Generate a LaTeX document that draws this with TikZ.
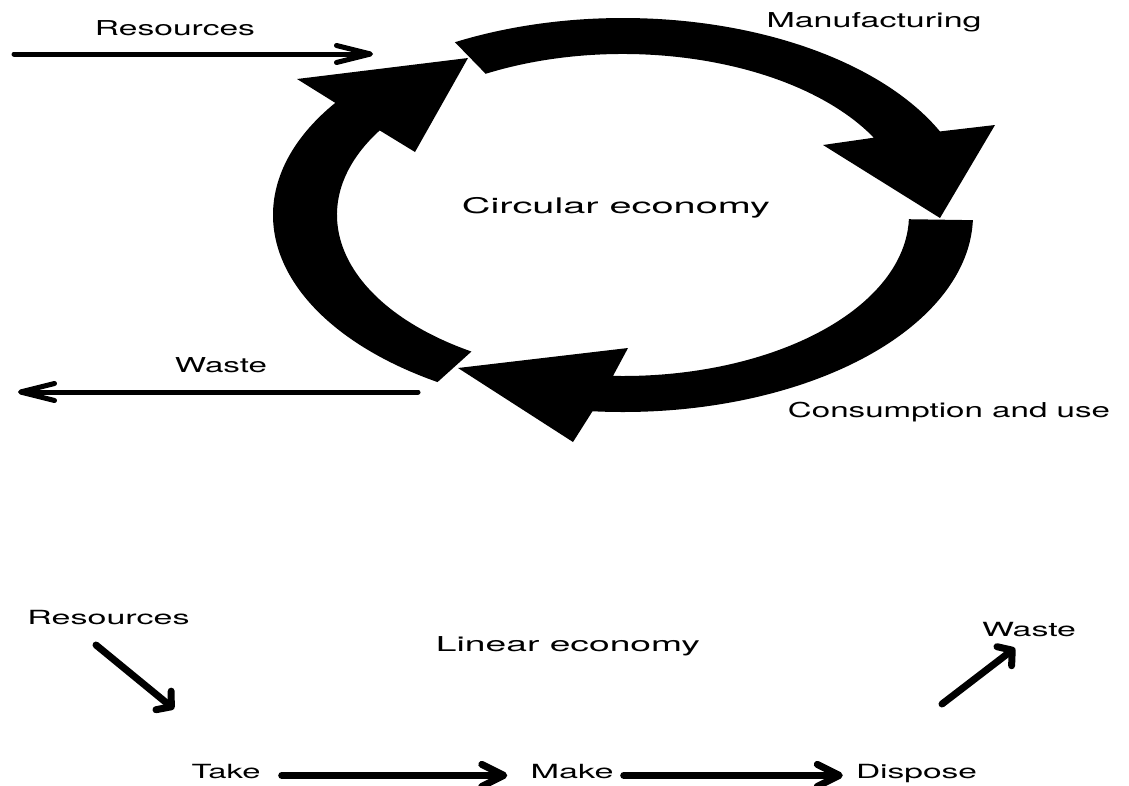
\documentclass[tikz,border=0pt]{standalone}
\usepackage{fontspec}
\setmainfont{TeX Gyre Heros}
\usepackage{graphicx}
\usetikzlibrary{arrows.meta,calc}
\newcommand{\stretchto}[2]{\resizebox{#1}{\height}{#2}}
\tikzset{
  lbl/.style={inner sep=0pt, anchor=base, font=\fontsize{20.5}{24}\selectfont},
  lblbig/.style={lbl, font=\fontsize{21.5}{25}\selectfont},
  lblbot/.style={lbl, font=\fontsize{19.5}{23}\selectfont},
  ring/.style={fill=black, draw=none},
  thinarrow/.style={line width=5pt, line cap=round, -{Straight Barb[length=34pt,width=17pt,round]}},
  midarrow/.style={line width=7pt, line cap=round, -{Straight Barb[length=22pt,width=22pt,round]}},
  diagarrow/.style={line width=7pt, line cap=round, -{Straight Barb[length=10pt,width=24pt,round]}}
}
\begin{document}
\begin{tikzpicture}[x=1pt,y=1pt]
\fill[white] (0,0) rectangle (1129,-785);
\useasboundingbox (0,0) rectangle (1129,-785);
\coordinate (C) at (623,-215);

% circular ring segments
\fill[ring] ($(C)+(118.7:350 and 197)$) arc[start angle=118.7, end angle=25.1, x radius=350, y radius=197]
  -- (995,-125) -- (940,-218) -- (823,-145)
  -- ($(C)+(28.7:286 and 161)$) arc[start angle=28.7, end angle=118.7, x radius=286, y radius=161] -- cycle;
\fill[ring] ($(C)+(-1.5:350 and 197)$) arc[start angle=-1.5, end angle=-95, x radius=350, y radius=197]
  -- (573,-442) -- (458,-368) -- (628,-348)
  -- ($(C)+(-92:286 and 161)$) arc[start angle=-92, end angle=-1.5, x radius=286, y radius=161] -- cycle;
\fill[ring] ($(C)+(238:350 and 197)$) arc[start angle=238, end angle=145.3, x radius=350, y radius=197]
  -- (297,-79) -- (468,-58) -- (415,-152)
  -- ($(C)+(148.3:286 and 161)$) arc[start angle=148.3, end angle=238, x radius=286, y radius=161] -- cycle;

% top labels
\node[lbl] (resTop) at (175,-35) {\stretchto{160pt}{Resources}};
\node[lbl] (wasteTop) at (221,-372) {\stretchto{92pt}{Waste}};
\node[lbl] (manu) at (874,-27) {\stretchto{215pt}{Manufacturing}};
\node[lblbig] (circ) at (616,-213) {\stretchto{308pt}{Circular economy}};
\node[lbl] (cons) at (949,-417) {\stretchto{322pt}{Consumption and use}};

% top straight arrows
\coordinate (resA) at (14,-54);
\coordinate (resB) at (373,-54);
\draw[thinarrow] (resA) -- (resB);
\coordinate (wasA) at (418,-392);
\coordinate (wasB) at (18,-392);
\draw[thinarrow] (wasA) -- (wasB);

% bottom labels
\node[lblbot] (resBot) at (108.5,-624) {\stretchto{162pt}{Resources}};
\node[lbl] (linear) at (568,-651) {\stretchto{264pt}{Linear economy}};
\node[lblbot] (wasteBot) at (1029,-636) {\stretchto{94pt}{Waste}};
\node[lblbot] (take) at (226,-778) {\stretchto{69pt}{Take}};
\node[lblbot] (make) at (572,-778) {\stretchto{83pt}{Make}};
\node[lblbot] (dispose) at (916.5,-778) {\stretchto{121pt}{Dispose}};

% bottom arrows
\draw[midarrow, shorten <=21pt, shorten >=23pt] (take.mid east) -- (make.mid west);
\draw[midarrow, shorten <=10pt, shorten >=13pt] (make.mid east) -- (dispose.mid west);
\coordinate (rdA) at (96,-645);
\coordinate (rdB) at (174,-709);
\draw[diagarrow] (rdA) -- (rdB);
\coordinate (wdA) at (942,-704);
\coordinate (wdB) at (1015,-648);
\draw[diagarrow] (wdA) -- (wdB);
\end{tikzpicture}
\end{document}
